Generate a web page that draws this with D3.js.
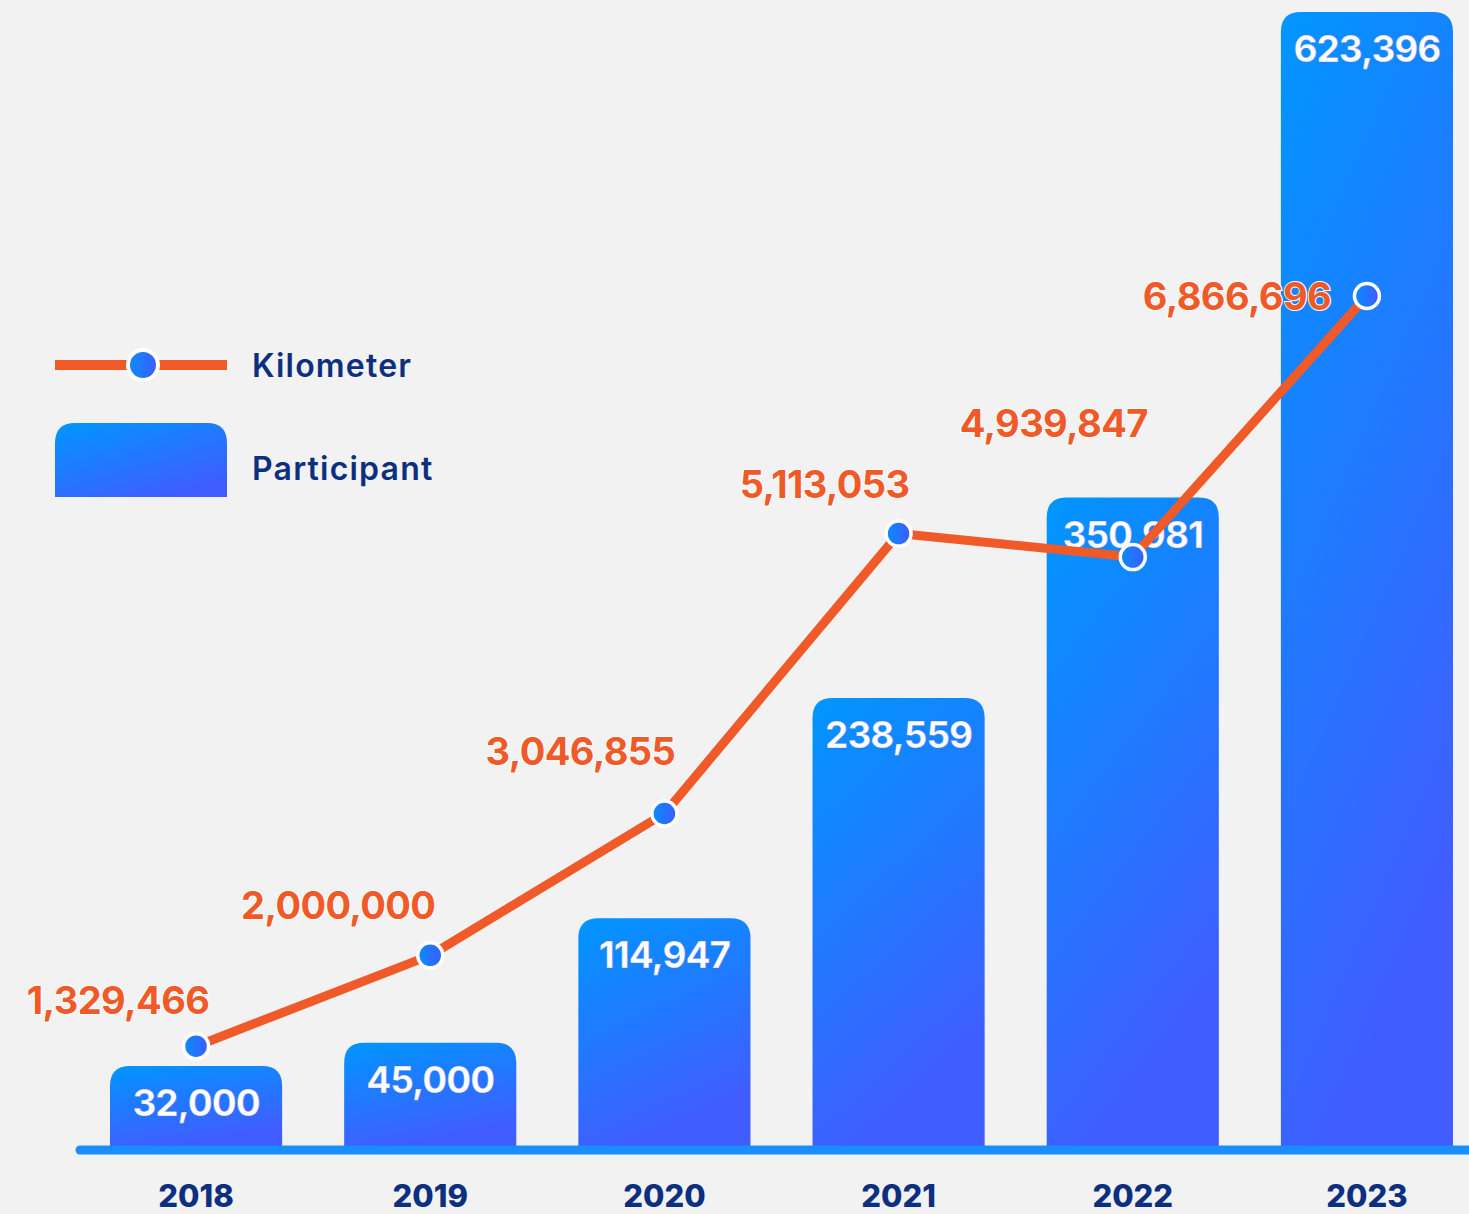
<!DOCTYPE html>
<html>
<head>
<meta charset="utf-8">
<script src="https://cdn.jsdelivr.net/npm/d3@7"></script>
<style>
  html, body { margin: 0; padding: 0; background: #F2F2F2; }
  svg { display: block; }
</style>
</head>
<body>
<script>
// ---- data ----
const years = ['2018', '2019', '2020', '2021', '2022', '2023'];
const participants = [32000, 45000, 114947, 238559, 350981, 623396];
const kilometers = [1329466, 2000000, 3046855, 5113053, 4939847, 6866696];
const legendLabels = ['Kilometer', 'Participant'];

// ---- layout ----
const W = 1469, H = 1214;
const baseY = 1148;
const FONT = "Inter, 'Open Sans', sans-serif";
const ORANGE = '#F05A28';
const NAVY = '#0C2F7F';

const svg = d3.select('body').append('svg').attr('width', W).attr('height', H);
svg.append('rect').attr('width', W).attr('height', H).attr('fill', '#F2F2F2');

const defs = svg.append('defs');
const g1 = defs.append('linearGradient').attr('id', 'barGrad')
  .attr('x1', 0).attr('y1', 0).attr('x2', 0.35).attr('y2', 1);
g1.append('stop').attr('offset', '0%').attr('stop-color', '#0096FF');
g1.append('stop').attr('offset', '100%').attr('stop-color', '#415CFF');
const g2 = defs.append('linearGradient').attr('id', 'dotGrad')
  .attr('x1', 0).attr('y1', 0).attr('x2', 1).attr('y2', 0);
g2.append('stop').attr('offset', '0%').attr('stop-color', '#0A8CFF');
g2.append('stop').attr('offset', '100%').attr('stop-color', '#3D5CFF');
const g3 = defs.append('linearGradient').attr('id', 'legGrad')
  .attr('x1', 0).attr('y1', 0).attr('x2', 0.7).attr('y2', 1);
g3.append('stop').attr('offset', '0%').attr('stop-color', '#0096FF');
g3.append('stop').attr('offset', '100%').attr('stop-color', '#405CFF');

// scales
const x = d3.scaleBand().domain(years).range([110, 1453]).paddingInner(0.265).paddingOuter(0);
const yBar = d3.scaleLinear().domain([-14000, 623396]).range([baseY, 12]);
const yKm = d3.scaleLinear().domain([578000, 6866696]).range([baseY, baseY - 852]);

function topRounded(x0, y0, w, h, r) {
  r = Math.min(r, w / 2, h);
  return `M${x0},${y0 + h}V${y0 + r}Q${x0},${y0} ${x0 + r},${y0}H${x0 + w - r}Q${x0 + w},${y0} ${x0 + w},${y0 + r}V${y0 + h}Z`;
}

// bars
const bw = x.bandwidth();
svg.append('g').selectAll('path').data(years).join('path')
  .attr('d', (d, i) => topRounded(x(d), yBar(participants[i]), bw, baseY - yBar(participants[i]), 20))
  .attr('fill', 'url(#barGrad)');

// baseline
svg.append('line').attr('x1', 80).attr('x2', W + 20).attr('y1', baseY + 2).attr('y2', baseY + 2)
  .attr('stroke', '#1A8DFF').attr('stroke-width', 9).attr('stroke-linecap', 'round');

// bar labels
const fmt = d3.format(',');
svg.append('g').selectAll('text').data(years).join('text')
  .attr('x', d => x(d) + bw / 2)
  .attr('y', (d, i) => yBar(participants[i]) + 50)
  .attr('text-anchor', 'middle')
  .attr('font-family', FONT).attr('font-weight', 700).attr('font-size', 37)
  .attr('letter-spacing', -1)
  .attr('fill', '#fff')
  .attr('stroke', 'rgba(80,90,255,0.35)').attr('stroke-width', 1)
  .text((d, i) => fmt(participants[i]));

// year labels
svg.append('g').selectAll('text').data(years).join('text')
  .attr('x', d => x(d) + bw / 2)
  .attr('y', 1207)
  .attr('text-anchor', 'middle')
  .attr('font-family', FONT).attr('font-weight', 800).attr('font-size', 31)
  .attr('fill', NAVY)
  .text(d => d);

// line
const pts = years.map((d, i) => [x(d) + bw / 2, yKm(kilometers[i])]);
svg.append('path').attr('d', d3.line()(pts))
  .attr('fill', 'none').attr('stroke', ORANGE).attr('stroke-width', 9)
  .attr('stroke-linejoin', 'round').attr('stroke-linecap', 'round');

svg.append('g').selectAll('circle').data(pts).join('circle')
  .attr('cx', d => d[0]).attr('cy', d => d[1]).attr('r', 12.5)
  .attr('fill', 'url(#dotGrad)').attr('stroke', '#fff').attr('stroke-width', 3.5);

// km labels (offset of label centre from point)
const kmLabelOffsets = [[-78, -46], [-92, -50], [-84, -63], [-74, -50], [-79, -134], [-130, 0]];
svg.append('g').selectAll('text').data(pts).join('text')
  .attr('x', (d, i) => d[0] + kmLabelOffsets[i][0])
  .attr('y', (d, i) => d[1] + kmLabelOffsets[i][1] + 14)
  .attr('text-anchor', 'middle')
  .attr('font-family', FONT).attr('font-weight', 700).attr('font-size', 38)
  .attr('letter-spacing', -0.6)
  .attr('fill', ORANGE)
  .attr('stroke', '#fff').attr('stroke-width', 2).attr('paint-order', 'stroke')
  .text((d, i) => fmt(kilometers[i]));

// legend
const leg = svg.append('g');
leg.append('line').attr('x1', 55).attr('x2', 227).attr('y1', 365).attr('y2', 365)
  .attr('stroke', ORANGE).attr('stroke-width', 10);
leg.append('circle').attr('cx', 143).attr('cy', 365).attr('r', 15)
  .attr('fill', 'url(#dotGrad)').attr('stroke', '#fff').attr('stroke-width', 4);
leg.append('path').attr('d', topRounded(55, 423, 172, 74, 20)).attr('fill', 'url(#legGrad)');
leg.selectAll('text').data(legendLabels).join('text')
  .attr('x', 252).attr('y', (d, i) => i === 0 ? 377 : 480)
  .attr('font-family', FONT).attr('font-weight', 600).attr('font-size', 32)
  .attr('letter-spacing', 1.2)
  .attr('fill', NAVY)
  .text(d => d);
</script>
</body>
</html>
